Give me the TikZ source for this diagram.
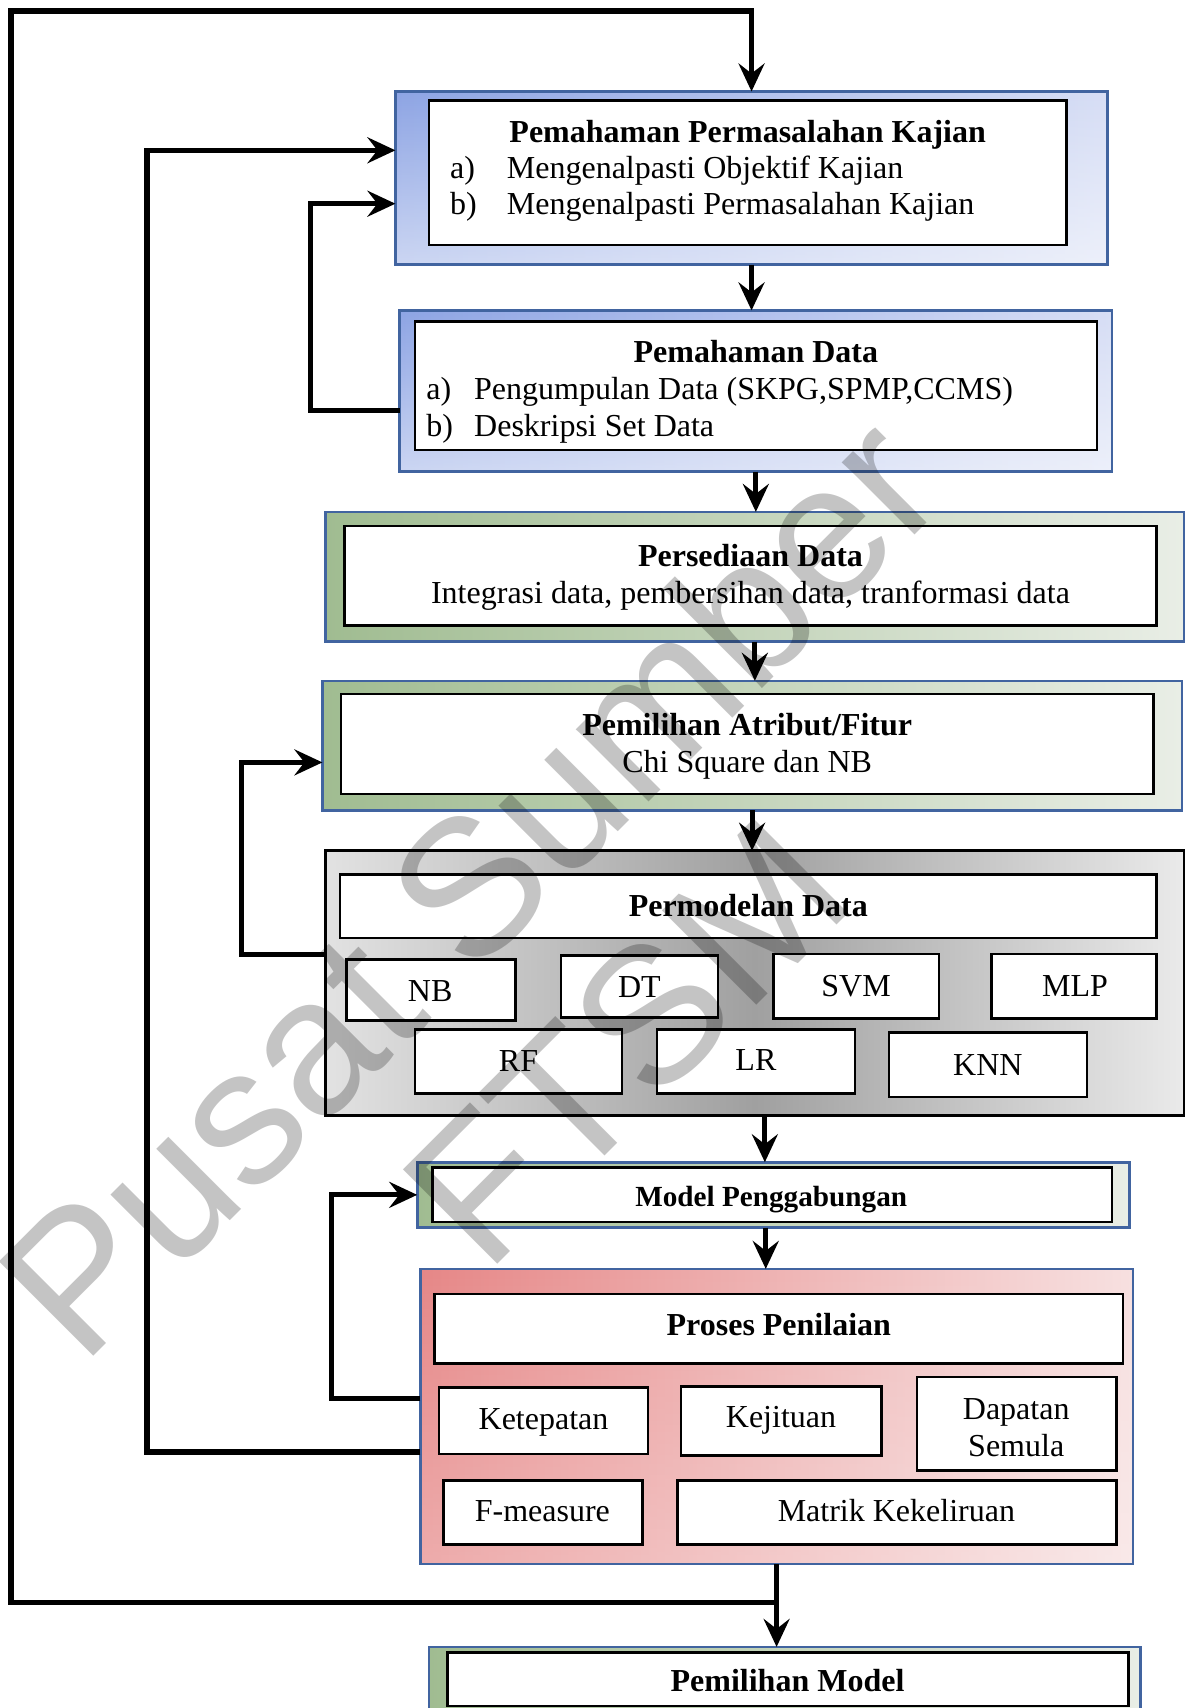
\documentclass[tikz,border=0pt]{standalone}
\usepackage{fontspec}
\setmainfont{Liberation Serif}
\newfontfamily\wmfont{Liberation Sans}
\usetikzlibrary{arrows.meta,fit,fadings}

\definecolor{bordblue}{RGB}{65,100,160}
\definecolor{blueA}{RGB}{141,164,228}
\definecolor{blueB}{RGB}{215,222,245}
\definecolor{greenA}{RGB}{160,188,145}
\definecolor{greenB}{RGB}{233,238,230}
\definecolor{redA}{RGB}{230,135,135}
\definecolor{redB}{RGB}{247,224,224}
\definecolor{greyA}{RGB}{226,226,226}
\definecolor{greyM}{RGB}{160,160,160}
\definecolor{greyB}{RGB}{234,234,234}

\tikzset{
  frame/.style={inner sep=0pt, outer sep=0pt, line width=1.3pt},
  lighten bottom/.style={path picture={
      \fill[white, path fading=north, fill opacity=#1]
        (path picture bounding box.south west) rectangle (path picture bounding box.north east);}},
  bluebox/.style={frame, draw=bordblue, left color=blueA, right color=blueB, lighten bottom=0.55},
  greenbox/.style={frame, draw=bordblue, left color=greenA, right color=greenB},
  redbox/.style={frame, draw=bordblue, left color=redA, right color=redB, lighten bottom=0.3},
  greybox/.style={frame, draw=black, left color=greyA, right color=greyB, middle color=greyM},
  inbox/.style={frame, draw=black, fill=white},
  title/.style={anchor=base, inner sep=0pt, font=\bfseries\fontsize{16}{18}\selectfont},
  smalltitle/.style={anchor=base, inner sep=0pt, font=\bfseries\fontsize{14.6}{16}\selectfont},
  txt/.style={anchor=base, inner sep=0pt, font=\fontsize{16}{18}\selectfont},
  item/.style={anchor=base west, inner sep=0pt, font=\fontsize{16}{18}\selectfont},
  conn/.style={line width=2.6pt},
  arr/.style={conn, -{Stealth[length=14pt, width=13pt, inset=5pt]}},
  wm/.style={rotate=45, align=center, inner sep=0pt, text=black, text opacity=0.23,
             font=\wmfont\fontsize{97}{110}\selectfont}
}

\begin{document}
\begin{tikzpicture}[x=0.5pt, y=-0.5pt]
\useasboundingbox (0,0) rectangle (1185,1708);
\clip (0,0) rectangle (1185,1708);

% 1. Pemahaman Permasalahan Kajian
\node[bluebox, fit={(395.4,91.5)(1107.7,264.7)}] (b1o) {};
\node[inbox, fit={(429.1,100.2)(1066.3,245.1)}] (b1i) {};
\node[title] (b1t) at (747.7,142) {Pemahaman Permasalahan Kajian};
\node[item] (b1a) at (449.8,178.7) {a)};
\node[item] (b1at) at (506.5,178.7) {Mengenalpasti Objektif Kajian};
\node[item] (b1b) at (449.8,214.7) {b)};
\node[item] (b1bt) at (506.5,214.7) {Mengenalpasti Permasalahan Kajian};

% 2. Pemahaman Data
\node[bluebox, fit={(399.7,310.4)(1112,471.6)}] (b2o) {};
\node[inbox, fit={(415,321.3)(1096.8,449.8)}] (b2i) {};
\node[title] (b2t) at (755.9,362.8) {Pemahaman Data};
\node[item] (b2a) at (425.9,399.8) {a)};
\node[item] (b2at) at (473.8,399.8) {Pengumpulan Data (SKPG,SPMP,CCMS)};
\node[item] (b2b) at (425.9,436.9) {b)};
\node[item] (b2bt) at (473.8,436.9) {Deskripsi Set Data};

% 3. Persediaan Data
\node[greenbox, fit={(325.7,511.9)(1184,641.5)}] (b3o) {};
\node[inbox, fit={(344.2,526.1)(1156.7,625.2)}] (b3i) {};
\node[title] (b3t) at (750.5,566.5) {Persediaan Data};
\node[txt] (b3s) at (750.5,603.5) {Integrasi data, pembersihan data, tranformasi data};

% 4. Pemilihan Atribut/Fitur
\node[greenbox, fit={(322.4,680.8)(1181.8,810.4)}] (b4o) {};
\node[inbox, fit={(340.9,693.8)(1153.5,794)}] (b4i) {};
\node[title] (b4t) at (747.2,735.3) {Pemilihan Atribut/Fitur};
\node[txt] (b4s) at (747.2,772.4) {Chi Square dan NB};

% 5. Permodelan Data
\node[greybox, fit={(325.7,850.7)(1184,1115.3)}] (b5o) {};
\node[inbox, fit={(339.8,874.6)(1156.7,937.8)}] (b5i) {};
\node[title] (b5t) at (748.3,916) {Permodelan Data};
\node[inbox, fit={(346.4,959.6)(515.2,1020.6)}] (nb) {};
\node[inbox, fit={(560.9,955.2)(717.8,1017.3)}] (dt) {};
\node[inbox, fit={(773.3,954.1)(938.9,1018.4)}] (svm) {};
\node[inbox, fit={(991.2,954.1)(1156.7,1018.4)}] (mlp) {};
\node[inbox, fit={(415,1029.3)(621.9,1093.6)}] (rf) {};
\node[inbox, fit={(656.8,1029.3)(855,1093.6)}] (lr) {};
\node[inbox, fit={(888.8,1032.6)(1087,1096.8)}] (knn) {};
\node[txt] (nbt) at (430.2,1001) {NB};
\node[txt] (dtt) at (639.4,997.8) {DT};
\node[txt] (svmt) at (856.1,996.7) {SVM};
\node[txt] (mlpt) at (1075,996.7) {MLP};
\node[txt] (rft) at (518.5,1071.9) {RF};
\node[txt] (lrt) at (755.9,1070.8) {LR};
\node[txt] (knnt) at (987.9,1075.1) {KNN};

% 6. Model Penggabungan
\node[greenbox, fit={(417.2,1162.2)(1129.5,1227.5)}] (b6o) {};
\node[inbox, fit={(432.4,1167.6)(1112.1,1222.1)}] (b6i) {};
\node[smalltitle] (b6t) at (771.2,1206) {Model Penggabungan};

% 7. Proses Penilaian
\node[redbox, fit={(420.4,1268.9)(1132.8,1564.1)}] (b7o) {};
\node[inbox, fit={(434.6,1294)(1123,1363.7)}] (b7i) {};
\node[title] (b7t) at (778.8,1335.5) {Proses Penilaian};
\node[inbox, fit={(439,1387.6)(648.1,1454.1)}] (ket) {};
\node[inbox, fit={(680.8,1386.6)(881.2,1455.2)}] (kej) {};
\node[inbox, fit={(917.1,1376.8)(1116.4,1470.4)}] (dap) {};
\node[inbox, fit={(443.3,1480.2)(642.6,1544.5)}] (fme) {};
\node[inbox, fit={(677.5,1480.2)(1116.4,1544.5)}] (mat) {};
\node[txt] (kett) at (543.5,1429) {Ketepatan};
\node[txt] (kejt) at (781,1427) {Kejituan};
\node[txt] (dapt1) at (1016.2,1419.3) {Dapatan};
\node[txt] (dapt2) at (1016.2,1456.4) {Semula};
\node[txt] (fmet) at (542.4,1521.7) {F-measure};
\node[txt] (matt) at (896.4,1521.7) {Matrik Kekeliruan};

% 8. Pemilihan Model
\node[greenbox, fit={(429.1,1646.9)(1140.4,1740)}] (b8o) {};
\node[inbox, fit={(447.7,1652.3)(1128.4,1706)}] (b8i) {};
\node[title] (b8t) at (787.5,1691.6) {Pemilihan Model};

% main flow
\draw[arr] (b1o.south) -- (b1o.south |- b2o.north);
\draw[arr] (b2o.south) -- (b2o.south |- b3o.north);
\draw[arr] (b3o.south) -- (b3o.south |- b4o.north);
\draw[arr] (b4o.south) -- (b4o.south |- b5o.north);
\draw[arr] ([xshift=5pt]b5o.south) -- ([xshift=5pt]b5o.south |- b6o.north);
\draw[arr] ([xshift=-3.8pt]b6o.south) -- ([xshift=-3.8pt]b6o.south |- b7o.north);
\draw[arr] (b7o.south) -- (b7o.south |- b8o.north);

% feedback loops
\coordinate (jy) at (0,1602.2);
\coordinate (ox) at (10.9,10.9);
\draw[arr] (b7o.south |- jy) -| (ox) -| (b1o.north);
\draw[arr] ([yshift=-9.8pt]b2o.west) -- ++(-44.65pt,0) |- ([yshift=-12.8pt]b1o.west);
\draw[arr] ([yshift=-17.7pt]b7o.west) -- ++(-136.7pt,0) |- ([yshift=13.9pt]b1o.west);
\draw[arr] ([yshift=14.45pt]b5o.west) -- ++(-41.95pt,0) |- ([yshift=-8.4pt]b4o.west);
\draw[arr] ([yshift=9pt]b7o.west) -- ++(-44.65pt,0) |- (b6o.west);

% watermark
\node[wm] (wmark) at (546,962) {Pusat Sumber\\FTSM};
\end{tikzpicture}
\end{document}
